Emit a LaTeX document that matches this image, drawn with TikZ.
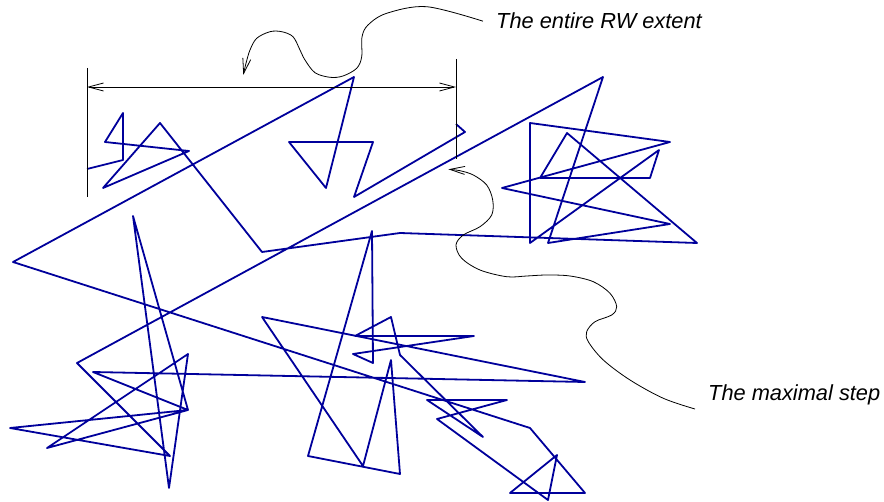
\documentclass[tikz,border=0pt]{standalone}
\usepackage{fontspec}
\newfontfamily\labelfont{Liberation Sans}
\usetikzlibrary{arrows.meta}
\definecolor{walkblue}{RGB}{0,0,155}
\begin{document}
\begin{tikzpicture}[x=1pt,y=-1pt,
  walk/.style={draw=walkblue,line width=1.8pt,line join=round},
  guide/.style={draw=black,line width=0.8pt},
  barb/.tip={Straight Barb[length=15pt,width=8pt]},
  pointer/.style={guide,-barb},
  caption/.style={font={\labelfont\itshape\fontsize{21.8pt}{26pt}\selectfont},inner sep=0pt,anchor=base west}]
\useasboundingbox (0,0) rectangle (884,502);

% the random walk itself
\draw[walk] (87,169) -- (123,160) -- (123,113) -- (105,142) -- (189,151) -- (103,188)
  -- (160,123) -- (262,252) -- (400,233) -- (697,243) -- (567,133) -- (540,178)
  -- (650,178) -- (659,150) -- (530,243) -- (530,123) -- (670,142) -- (502,188)
  -- (670,224) -- (548,243) -- (603,77) -- (77,363) -- (170,456) -- (10,428)
  -- (188,410) -- (47,448) -- (188,354) -- (169,488) -- (133,216) -- (188,410)
  -- (93,372) -- (585,382) -- (262,317) -- (363,466) -- (391,360) -- (400,474)
  -- (308,456) -- (372,231) -- (373,363) -- (353,354) -- (474,336) -- (355,336)
  -- (391,317) -- (400,355) -- (483,437) -- (427,400) -- (507,400) -- (437,419)
  -- (548,500) -- (557,455) -- (510,493) -- (585,493) -- (530,428) -- (13,262)
  -- (354,77) -- (326,188) -- (289,142) -- (373,142) -- (354,197) -- (465,132)
  -- (456,124);

% extent markers
\coordinate (leftbartop) at (87,68);
\coordinate (leftbarbot) at (87,197);
\coordinate (rightbartop) at (456,59);
\coordinate (rightbarbot) at (456,159);
\coordinate (spanleft) at (87,87);
\coordinate (spanright) at (456,87);
\draw[guide] (leftbartop) -- (leftbarbot);
\draw[guide] (rightbartop) -- (rightbarbot);
\draw[guide,barb-barb] (spanleft) -- (spanright);

% labels
\node[caption] (extentlabel) at (496,29) {The entire RW extent};
\node[caption] (steplabel) at (708,401) {The maximal step};

\coordinate (extentstart) at ([xshift=-13pt]extentlabel.west);
\coordinate (extenttip) at (243.3,75);
\coordinate (stepstart) at ([xshift=-13pt,yshift=-8pt]steplabel.base west);
\coordinate (steptip) at (448.3,169.3);

\draw[pointer] plot[smooth,tension=0.55] coordinates {(extentstart) (426.7,6.7) (386.7,13.3)
  (368,25) (362,37) (361.7,56.7) (356.7,68.3) (343,76) (330,77.3) (315,72.7) (305,60)
  (300,50) (293,36.7) (281.7,31.7) (270,31.7) (256.7,38.3) (250,50) (246,63.3) (extenttip)};

\draw[pointer] plot[smooth,tension=0.55] coordinates {(stepstart) (663.3,398.3) (630,380)
  (603.3,360) (588.3,341.7) (586.7,331.7) (595,321.7) (611.7,315) (616.7,306.7)
  (610,293.3) (593.3,281.7) (570,276) (546.7,275) (526.7,276) (506.7,276.7) (480,270)
  (461.7,258.3) (456,245) (463.3,235) (480,226.7) (491.7,215) (492.7,200) (486.7,185)
  (473.3,175) (460,170.7) (steptip)};
\end{tikzpicture}
\end{document}
